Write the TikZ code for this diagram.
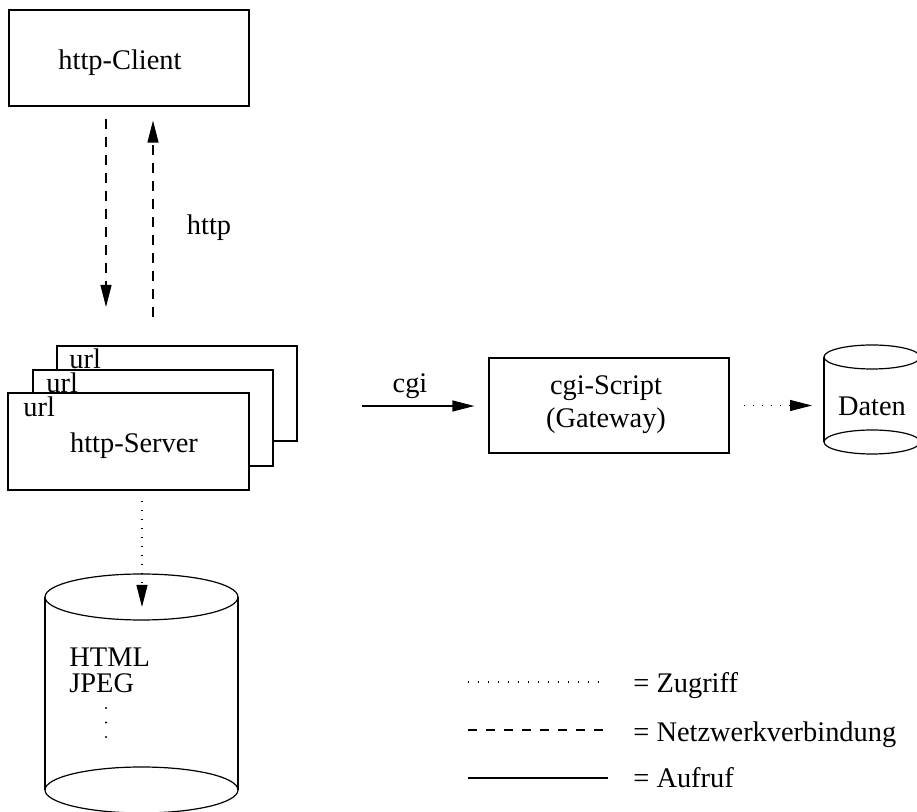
\documentclass[tikz,border=0pt]{standalone}
\usepackage{fontspec}
\setmainfont{Liberation Serif}
\usetikzlibrary{arrows.meta}
\newlength\pxu
\setlength\pxu{0.5pt}
\tikzset{
  txt/.style={inner sep=0pt, font=\fontsize{14.2}{16.5}\selectfont},
  boxstyle/.style={draw, line width=0.6pt, inner sep=0pt, fill=white},
  tip/.style={-{Triangle[length=11pt,width=5.5pt]}},
  netline/.style={line width=0.6pt, dash pattern=on 5pt off 4pt},
  accline/.style={line width=0.6pt, dash pattern=on 0.7pt off 3.8pt},
  callline/.style={line width=0.6pt},
}
\begin{document}
\begin{tikzpicture}[x=0.5pt,y=-0.5pt]
\useasboundingbox (0,0) rectangle (917,812);

% client
\node[boxstyle, minimum width=240\pxu, minimum height=96\pxu] (client) at (129,58) {};
\node[txt, anchor=base] (clientlbl) at (120,70) {http-Client};

% server stack (back to front)
\node[boxstyle, minimum width=240\pxu, minimum height=95\pxu] (srv3) at (177,393.5) {};
\node[txt, anchor=base west] (url3) at (69,369) {url};
\node[boxstyle, minimum width=240\pxu, minimum height=96\pxu] (srv2) at (153,418) {};
\node[txt, anchor=base west] (url2) at (46,393) {url};
\node[boxstyle, minimum width=241\pxu, minimum height=97\pxu] (server) at (128.5,441.5) {};
\node[txt, anchor=base west] (url1) at (23,417) {url};
\node[txt, anchor=base] (serverlbl) at (134,453) {http-Server};

% http connection
\coordinate (dnend) at (106,307);
\coordinate (upstart) at (153,317);
\draw[netline, tip, shorten <=12\pxu] (client.south -| dnend) -- (dnend);
\draw[netline, tip, shorten >=14\pxu] (upstart) -- (client.south -| upstart);
\node[txt, anchor=base] (httplbl) at (209,235) {http};

% gateway
\node[boxstyle, minimum width=240\pxu, minimum height=95\pxu] (cgi) at (609,405.5) {};
\node[txt, align=center] (cgilbl) at (606,405) {cgi-Script\\(Gateway)};
\coordinate (cgistart) at (362,406);
\draw[callline, tip, shorten >=14\pxu] (cgistart) -- (cgistart -| cgi.west);
\node[txt, anchor=base] (cgiarrowlbl) at (410,393) {cgi};

% data cylinder
\coordinate (daten) at (872,357);
\draw[line width=0.6pt] (824,357) -- (824,442) (920,357) -- (920,442);
\draw[line width=0.6pt] (872,357) ellipse [x radius=48, y radius=12];
\draw[line width=0.6pt] (872,442) ellipse [x radius=48, y radius=12];
\node[txt, anchor=base] (datenlbl) at (872,416) {Daten};
\draw[accline, tip, shorten <=14\pxu, shorten >=12\pxu] (cgi.east) -- (cgi.east -| 824,0);

% document store
\draw[line width=0.6pt] (45,597) -- (45,790) (238,597) -- (238,790);
\draw[line width=0.6pt] (141.5,597) ellipse [x radius=96.5, y radius=23];
\draw[line width=0.6pt] (141.5,790) ellipse [x radius=96.5, y radius=23];
\node[txt, anchor=base west] (html) at (69,667) {HTML};
\node[txt, anchor=base west] (jpeg) at (69,693) {JPEG};
% continuation dots below the file types
\draw[line width=1.2pt, line cap=round, dash pattern=on 0pt off 14.5\pxu] (106,708) -- (106,738);
\coordinate (storein) at (142,607);
\draw[accline, tip, shorten <=10\pxu] (server.south -| storein) -- (storein);

% legend
\draw[line width=0.6pt, dash pattern=on 0.7pt off 4.3pt] (468,682) -- (605,682);
\draw[netline, dash pattern=on 4.5pt off 4.5pt] (468,730) -- (605,730);
\draw[callline] (468,778) -- (608,778);
\node[txt, anchor=base west] (leg1) at (633,693) {= Zugriff};
\node[txt, anchor=base west] (leg2) at (633,742) {= Netzwerkverbindung};
\node[txt, anchor=base west] (leg3) at (633,788) {= Aufruf};
\end{tikzpicture}
\end{document}
